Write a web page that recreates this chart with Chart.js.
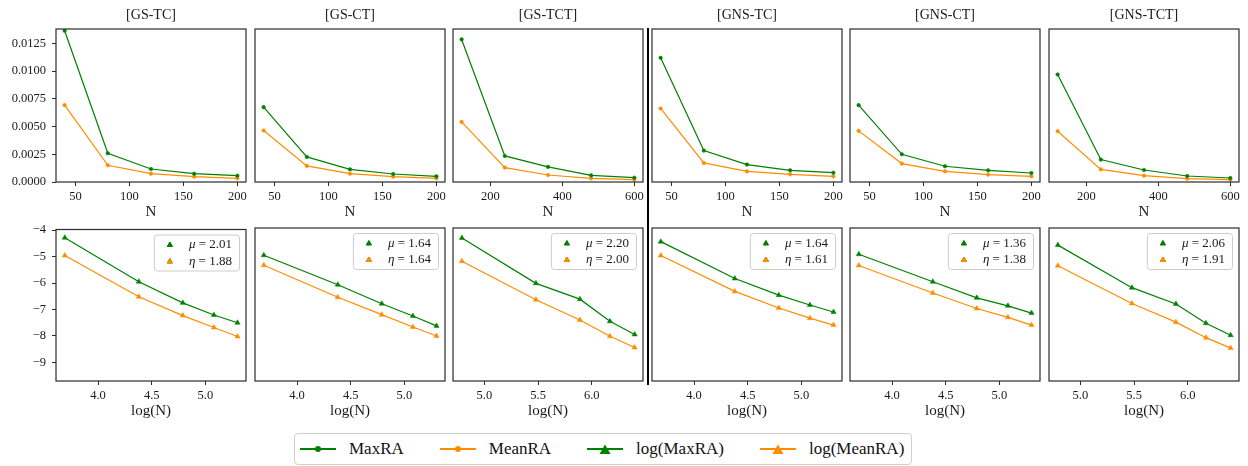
<!DOCTYPE html>
<html>
<head>
<meta charset="utf-8">
<script src="https://cdn.jsdelivr.net/npm/chart.js@4.4.1/dist/chart.umd.min.js"></script>
<style>
    body { margin: 0; background: #fff; width: 1248px; height: 466px; overflow: hidden; position: relative; font-family: "Liberation Serif", "DejaVu Serif", serif; }
    .panel { position: absolute; }
    #divider { position: absolute; left: 646.5px; top: 28px; width: 2.6px; height: 357px; background: #000; }
    #legend { position: absolute; left: 294px; top: 433px; height: 32px; box-sizing: border-box; border: 1px solid #d0d0d0; border-radius: 4px; display: flex; align-items: center; padding: 0 7px 0 5px; background: #fff; }
    .legends_li { display: flex; align-items: center; margin-right: 36px; font-size: 17px; color: #111; white-space: nowrap; }
    .legends_li:last-child { margin-right: 0; }
    .legend_box { margin-right: 13px; display: block; }
</style>
</head>
<body>
<div id="divider"></div>
<div id="legend"></div>
<script>
// --- data ---
var titles = ["[GS-TC]", "[GS-CT]", "[GS-TCT]", "[GNS-TC]", "[GNS-CT]", "[GNS-TCT]"];
var bigN = [false, false, true, false, false, true];

var nSmall = [40, 80, 120, 160, 200];
var nLarge = [120, 240, 360, 480, 600];
var logNSmall = [3.69, 4.38, 4.79, 5.08, 5.30];
var logNLarge = [4.79, 5.48, 5.89, 6.17, 6.40];

var maxRA = [
    [0.01364, 0.00259, 0.00117, 0.00075, 0.00057],
    [0.00675, 0.00226, 0.00114, 0.00072, 0.00051],
    [0.01286, 0.00235, 0.00136, 0.00060, 0.00039],
    [0.01120, 0.00283, 0.00157, 0.00105, 0.00084],
    [0.00693, 0.00250, 0.00142, 0.00105, 0.00081],
    [0.00970, 0.00202, 0.00108, 0.00054, 0.00036]
];
var meanRA = [
    [0.00693, 0.00151, 0.00075, 0.00048, 0.00033],
    [0.00464, 0.00145, 0.00075, 0.00048, 0.00033],
    [0.00542, 0.00130, 0.00063, 0.00033, 0.00021],
    [0.00663, 0.00172, 0.00096, 0.00069, 0.00051],
    [0.00461, 0.00166, 0.00096, 0.00066, 0.00051],
    [0.00458, 0.00114, 0.00057, 0.00030, 0.00021]
];
var logMaxRA = [
    [-4.29, -5.95, -6.75, -7.21, -7.50],
    [-5.00, -6.10, -6.81, -7.27, -7.64],
    [-4.35, -6.05, -6.64, -7.47, -7.96],
    [-4.49, -5.87, -6.49, -6.86, -7.12],
    [-4.96, -5.99, -6.59, -6.89, -7.16],
    [-4.62, -6.21, -6.82, -7.54, -7.99]
];
var logMeanRA = [
    [-4.96, -6.52, -7.23, -7.68, -8.02],
    [-5.37, -6.57, -7.22, -7.68, -8.02],
    [-5.22, -6.66, -7.42, -8.03, -8.45],
    [-5.01, -6.35, -6.97, -7.35, -7.61],
    [-5.38, -6.41, -6.99, -7.32, -7.61],
    [-5.39, -6.80, -7.50, -8.08, -8.47]
];
var muVals = ["2.01", "1.64", "2.20", "1.64", "1.36", "2.06"];
var etaVals = ["1.88", "1.64", "2.00", "1.61", "1.38", "1.91"];

// ticks
var nTicksSmall = [50, 100, 150, 200];
var nTicksLarge = [200, 400, 600];
var logTicksSmall = [4.0, 4.5, 5.0];
var logTicksLarge = [5.0, 5.5, 6.0];
var raTicks = [0, 0.0025, 0.005, 0.0075, 0.01, 0.0125];
var raTickLabels = ["0.0000", "0.0025", "0.0050", "0.0075", "0.0100", "0.0125"];
var logRaTicks = [-9, -8, -7, -6, -5, -4];
var logRaTickLabels = ["\u22129", "\u22128", "\u22127", "\u22126", "\u22125", "\u22124"];
var xTickLabels = { nS: ["50", "100", "150", "200"], nL: ["200", "400", "600"], lS: ["4.0", "4.5", "5.0"], lL: ["5.0", "5.5", "6.0"] };

// --- look ---
var green = "#008000", orange = "#ff8c00", ink = "#1a1a1a", spine = "#2b2b2b";
var serif = "'Liberation Serif', 'DejaVu Serif', serif";
var plotLefts = [56, 255, 453, 652, 850, 1049], plotW = 190, plotH = 153;
var rowTops = [29, 228];

var framePlugin = {
    id: "frame",
    afterDatasetsDraw(chart) {
        var ctx = chart.ctx, a = chart.chartArea;
        ctx.save();
        ctx.strokeStyle = spine;
        ctx.lineWidth = 1.2;
        ctx.strokeRect(a.left, a.top, a.right - a.left, a.bottom - a.top);
        ctx.restore();
    }
};

var insetLegendPlugin = {
    id: "insetLegend",
    afterDraw(chart, args, opts) {
        if (!opts || !opts.rows) return;
        var ctx = chart.ctx, a = chart.chartArea;
        ctx.save();
        var textW = 0;
        opts.rows.forEach(function (r) {
            ctx.font = "italic 13px " + serif;
            var w = ctx.measureText(r.sym).width;
            ctx.font = "13px " + serif;
            w += ctx.measureText(" = " + r.val).width;
            textW = Math.max(textW, w);
        });
        var bw = 35 + textW + 7, bh = 36;
        var bx = a.right - 7 - bw, by = a.top + 5;
        ctx.beginPath();
        ctx.roundRect(bx + 0.5, by + 0.5, bw, bh, 3);
        ctx.fillStyle = "rgba(255,255,255,0.8)";
        ctx.fill();
        ctx.strokeStyle = "#cccccc";
        ctx.lineWidth = 1;
        ctx.stroke();
        opts.rows.forEach(function (r, i) {
            var cy = by + 10.5 + i * 16.5;
            Chart.helpers.drawPoint(ctx, { pointStyle: "triangle", radius: 3, borderWidth: 0.5, rotation: 0 }, bx + 16, cy);
            ctx.fillStyle = r.color;
            ctx.strokeStyle = r.color;
            ctx.beginPath();
            Chart.helpers.drawPoint(ctx, { pointStyle: "triangle", radius: 3, borderWidth: 0.5, rotation: 0 }, bx + 16, cy);
            ctx.fill();
            ctx.fillStyle = ink;
            ctx.textBaseline = "middle";
            ctx.font = "italic 13px " + serif;
            ctx.fillText(r.sym, bx + 35, cy);
            var sw = ctx.measureText(r.sym).width;
            ctx.font = "13px " + serif;
            ctx.fillText(" = " + r.val, bx + 35 + sw, cy);
        });
        ctx.restore();
    }
};

function series(xs, ys) {
    return xs.map(function (x, i) { return { x: x, y: ys[i] }; });
}

function makePanel(row, col) {
    var big = bigN[col];
    var yw = col === 0 ? 56 : 0, padL = col === 0 ? 0 : 8, padR = 8;
    var topPad = row === 0 ? 0 : 12, titleH = row === 0 ? 29 : 0, xh = 39;
    var canvas = document.createElement("canvas");
    canvas.width = padL + yw + plotW + padR;
    canvas.height = topPad + titleH + plotH + xh;
    canvas.className = "panel";
    canvas.style.left = plotLefts[col] - yw - padL + "px";
    canvas.style.top = rowTops[row] - titleH - topPad + "px";
    document.body.appendChild(canvas);

    var xs, xTicks, xLabels, xmin, xmax, ds;
    if (row === 0) {
        xs = big ? nLarge : nSmall;
        xTicks = big ? nTicksLarge : nTicksSmall;
        xLabels = big ? xTickLabels.nL : xTickLabels.nS;
        xmin = big ? 96 : 32; xmax = big ? 624 : 208;
        ds = [
            { label: "MaxRA", data: series(xs, maxRA[col]), borderColor: green, backgroundColor: green, pointStyle: "circle", pointRadius: 1.8 },
            { label: "MeanRA", data: series(xs, meanRA[col]), borderColor: orange, backgroundColor: orange, pointStyle: "circle", pointRadius: 1.8 }
        ];
    } else {
        xs = big ? logNLarge : logNSmall;
        xTicks = big ? logTicksLarge : logTicksSmall;
        xLabels = big ? xTickLabels.lL : xTickLabels.lS;
        xmin = big ? 4.707 : 3.608; xmax = big ? 6.478 : 5.379;
        ds = [
            { label: "log(MaxRA)", data: series(xs, logMaxRA[col]), borderColor: green, backgroundColor: green, pointStyle: "triangle", pointRadius: 3 },
            { label: "log(MeanRA)", data: series(xs, logMeanRA[col]), borderColor: orange, backgroundColor: orange, pointStyle: "triangle", pointRadius: 3 }
        ];
    }
    ds.forEach(function (d) { d.borderWidth = 1.2; d.pointBorderWidth = 0.5; d.tension = 0; d.fill = false; });

    var yTicks = row === 0 ? raTicks : logRaTicks;
    var yLabels = row === 0 ? raTickLabels : logRaTickLabels;

    return new Chart(canvas, {
        type: "line",
        data: { datasets: ds },
        options: {
            responsive: false,
            animation: false,
            layout: { padding: { left: padL, right: padR, top: topPad, bottom: 0 } },
            scales: {
                x: {
                    type: "linear",
                    min: xmin,
                    max: xmax,
                    afterBuildTicks: function (s) { s.ticks = xTicks.map(function (v) { return { value: v }; }); },
                    afterFit: function (s) { s.height = xh; },
                    border: { display: false },
                    grid: { drawOnChartArea: false, drawTicks: true, tickLength: 4, color: spine, lineWidth: 1 },
                    ticks: { autoSkip: false, maxRotation: 0, padding: 3, color: ink, font: { family: serif, size: 12.5 }, callback: function (v, i) { return xLabels[i]; } },
                    title: { display: true, text: row === 0 ? "N" : "log(N)", color: ink, font: { family: serif, size: 15 }, padding: 0 }
                },
                y: {
                    min: row === 0 ? 0 : -9.7,
                    max: row === 0 ? 0.0138 : -3.98,
                    afterBuildTicks: function (s) { s.ticks = yTicks.map(function (v) { return { value: v }; }); },
                    afterFit: function (s) { s.width = yw; },
                    border: { display: false },
                    grid: { display: col === 0, drawOnChartArea: false, drawTicks: true, tickLength: 4, color: spine, lineWidth: 1 },
                    ticks: { display: col === 0, padding: 6, color: ink, font: { family: serif, size: 12.5 }, callback: function (v, i) { return yLabels[i]; } }
                }
            },
            plugins: {
                legend: { display: false },
                tooltip: { enabled: false },
                title: { display: row === 0, text: titles[col], fullSize: false, color: ink, font: { family: serif, size: 14, weight: "normal" }, padding: { top: 6.6, bottom: 5.6 } },
                insetLegend: row === 1 ? { rows: [{ sym: "\u03bc", val: muVals[col], color: green }, { sym: "\u03b7", val: etaVals[col], color: orange }] } : {}
            }
        },
        plugins: [framePlugin, insetLegendPlugin]
    });
}

var charts = [];
for (var r = 0; r < 2; r++) for (var c = 0; c < 6; c++) charts.push(makePanel(r, c));

// figure legend built from the dataset labels
function buildLegend() {
    var ul = document.getElementById("legend");
    var items = charts[0].data.datasets.concat(charts[6].data.datasets);
    items.forEach(function (item) {
        var li = document.createElement("div");
        li.className = "legends_li";
        var col = item.borderColor;
        var mark = item.pointStyle === "triangle"
            ? '<polygon points="12.5,12 23.5,12 18,2.5" fill="' + col + '"/>'
            : '<circle cx="18" cy="7" r="3" fill="' + col + '"/>';
        li.innerHTML = '<svg class="legend_box" width="36" height="14"><line x1="0" y1="7" x2="36" y2="7" stroke="' + col + '" stroke-width="2"/>' + mark + "</svg>";
        var p = document.createElement("span");
        p.className = "legend_text";
        p.textContent = item.label;
        li.appendChild(p);
        ul.appendChild(li);
    });
}
buildLegend();
</script>
</body>
</html>
